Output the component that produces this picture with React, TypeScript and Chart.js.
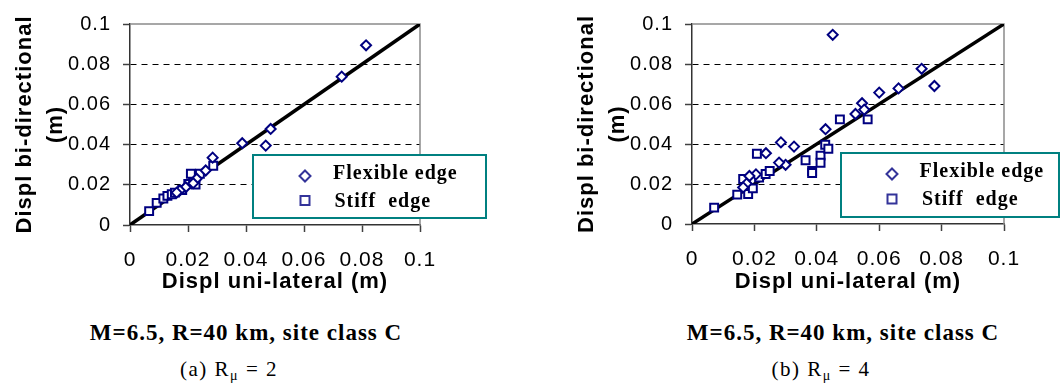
import React, { useEffect, useRef } from 'react';
import { Chart, registerables } from 'chart.js';

Chart.register(...registerables);

const SANS = "'Liberation Sans', Arial, sans-serif";
const SERIF = "'Liberation Serif', 'Times New Roman', serif";

// ---- data ----
const AXIS_MIN = 0;
const AXIS_MAX = 0.1;
const AXIS_STEP = 0.02;
const X_TITLE = 'Displ uni-lateral (m)';
const Y_TITLE = ['Displ bi-directional', '(m)'];
const SERIES_NAMES = ['Flexible edge', 'Stiff  edge'];
const DIAG_X = [0, 0.1];
const DIAG_Y = [0, 0.1];
const CAPTION_MAIN = 'M=6.5, R=40 km, site class C';
const CAPTION_SUB = [
  { pre: '(a) R', sub: 'μ', post: ' = 2' },
  { pre: '(b) R', sub: 'μ', post: ' = 4' },
];

// Panel (a): R_mu = 2
const A_FLEX_X = [0.0814, 0.073, 0.0485, 0.0468, 0.0387, 0.0285, 0.0261, 0.023, 0.0218, 0.0192, 0.0172, 0.0161];
const A_FLEX_Y = [0.0894, 0.0738, 0.0478, 0.0395, 0.0407, 0.0335, 0.0271, 0.023, 0.0208, 0.0188, 0.0172, 0.0161];
const A_STIFF_X = [0.0066, 0.0092, 0.0115, 0.0129, 0.0144, 0.0155, 0.018, 0.0201, 0.021, 0.0218, 0.0226, 0.0241, 0.0287];
const A_STIFF_Y = [0.0069, 0.011, 0.0132, 0.0145, 0.0153, 0.0161, 0.0174, 0.0204, 0.0255, 0.021, 0.0201, 0.0255, 0.0295];

// Panel (b): R_mu = 4
const B_FLEX_X = [0.0451, 0.0736, 0.0777, 0.0662, 0.06, 0.0545, 0.0552, 0.0524, 0.0428, 0.0327, 0.0285, 0.03, 0.0279, 0.0237, 0.0205, 0.0184, 0.0175, 0.0164];
const B_FLEX_Y = [0.0946, 0.0776, 0.069, 0.0678, 0.0657, 0.0604, 0.0572, 0.055, 0.0474, 0.0387, 0.0408, 0.0296, 0.0307, 0.0354, 0.0248, 0.024, 0.0202, 0.0183];
const B_STIFF_X = [0.0071, 0.0145, 0.018, 0.0164, 0.0195, 0.0208, 0.0215, 0.0236, 0.0249, 0.0364, 0.0385, 0.0385, 0.0412, 0.0412, 0.0427, 0.0437, 0.0474, 0.0563];
const B_STIFF_Y = [0.0082, 0.0147, 0.015, 0.0225, 0.0178, 0.0351, 0.0232, 0.025, 0.0265, 0.0319, 0.0265, 0.0255, 0.0342, 0.0306, 0.0396, 0.0376, 0.0523, 0.0523];

const pts = (xs: number[], ys: number[]) => xs.map((x, i) => ({ x, y: ys[i] }));

type Layout = {
  canvasLeft: number;
  width: number;
  height: number;
  padTop: number;
  padRight: number;
  xScaleH: number;
  legend: { x1: number; x2: number; y1: number; y2: number; mx: number; my: number[]; tx: number[]; ty: number[] };
};

const LAYOUT_A: Layout = {
  canvasLeft: 0,
  width: 530,
  height: 300,
  padTop: 18,
  padRight: 110,
  xScaleH: 75,
  legend: { x1: 253, x2: 486, y1: 155, y2: 218, mx: 305, my: [176, 200.5], tx: [333, 334.5], ty: [179, 206.5] },
};

const LAYOUT_B: Layout = {
  canvasLeft: 562,
  width: 499,
  height: 300,
  padTop: 20,
  padRight: 57,
  xScaleH: 76,
  legend: { x1: 279, x2: 497, y1: 153, y2: 217, mx: 330, my: [174, 199], tx: [357.5, 360], ty: [176.5, 205] },
};

const NAVY = '#000080';
const LEG_MARK = '#333399';

function drawDiamond(ctx: CanvasRenderingContext2D, x: number, y: number, r: number) {
  ctx.beginPath();
  ctx.moveTo(x, y - r);
  ctx.lineTo(x + r, y);
  ctx.lineTo(x, y + r);
  ctx.lineTo(x - r, y);
  ctx.closePath();
}

function makeConfig(flex: { x: number; y: number }[], stiff: { x: number; y: number }[], L: Layout): any {
  const spacing = {
    id: 'spacing',
    beforeDraw(chart: any) {
      chart.ctx.letterSpacing = '1px';
    },
  };
  const frame = {
    id: 'frame',
    beforeDatasetsDraw(chart: any) {
      const { ctx, chartArea: a } = chart;
      ctx.save();
      ctx.strokeStyle = '#8a8a8a';
      ctx.lineWidth = 1.5;
      ctx.beginPath();
      ctx.moveTo(a.left, a.top);
      ctx.lineTo(a.right, a.top);
      ctx.lineTo(a.right, a.bottom);
      ctx.stroke();
      ctx.restore();
    },
  };
  const legend = {
    id: 'customLegend',
    afterDatasetsDraw(chart: any) {
      const ctx = chart.ctx as CanvasRenderingContext2D;
      const g = L.legend;
      ctx.save();
      ctx.fillStyle = '#fff';
      ctx.fillRect(g.x1, g.y1, g.x2 - g.x1, g.y2 - g.y1);
      ctx.strokeStyle = '#008080';
      ctx.lineWidth = 2;
      ctx.strokeRect(g.x1, g.y1, g.x2 - g.x1, g.y2 - g.y1);
      ctx.strokeStyle = LEG_MARK;
      ctx.fillStyle = '#fff';
      ctx.lineWidth = 2;
      drawDiamond(ctx, g.mx, g.my[0], 5.5);
      ctx.fill();
      ctx.stroke();
      ctx.beginPath();
      ctx.rect(g.mx - 4.5, g.my[1] - 4.5, 9, 9);
      ctx.fill();
      ctx.stroke();
      (ctx as any).letterSpacing = '1px';
      ctx.fillStyle = '#000';
      ctx.font = `bold 20px ${SERIF}`;
      ctx.textBaseline = 'alphabetic';
      ctx.textAlign = 'left';
      ctx.fillText(SERIES_NAMES[0], g.tx[0], g.ty[0]);
      ctx.fillText(SERIES_NAMES[1], g.tx[1], g.ty[1]);
      ctx.restore();
    },
  };

  return {
    type: 'scatter',
    data: {
      datasets: [
        {
          label: 'diag',
          data: pts(DIAG_X, DIAG_Y),
          showLine: true,
          borderColor: '#000',
          borderWidth: 3.5,
          pointRadius: 0,
          order: 10,
        },
        {
          label: SERIES_NAMES[0],
          data: flex,
          pointStyle: 'rectRot',
          pointRadius: 5,
          borderColor: NAVY,
          backgroundColor: '#fff',
          pointBorderWidth: 2,
          borderWidth: 2,
          order: 1,
        },
        {
          label: SERIES_NAMES[1],
          data: stiff,
          pointStyle: 'rect',
          pointRadius: 5.6,
          borderColor: NAVY,
          backgroundColor: '#fff',
          pointBorderWidth: 2,
          borderWidth: 2,
          order: 2,
        },
      ],
    },
    options: {
      animation: false,
      responsive: false,
      events: [],
      layout: { padding: { left: 0, right: L.padRight, top: L.padTop, bottom: 0 } },
      plugins: { legend: { display: false }, tooltip: { enabled: false } },
      scales: {
        x: {
          type: 'linear',
          min: AXIS_MIN,
          max: AXIS_MAX,
          afterFit: (s: any) => {
            s.height = L.xScaleH;
          },
          ticks: {
            stepSize: AXIS_STEP,
            color: '#000',
            font: { family: SANS, size: 21 },
            padding: 16,
            maxRotation: 0,
            autoSkip: false,
            callback: (v: any) => String(+Number(v).toFixed(2)),
          },
          grid: {
            drawOnChartArea: false,
            drawTicks: true,
            tickLength: 7,
            tickColor: '#404040',
            tickWidth: 1.5,
          },
          border: { display: true, color: '#333', width: 1.5 },
          title: {
            display: true,
            text: X_TITLE,
            color: '#000',
            font: { family: SANS, size: 22, weight: 'bold', lineHeight: 1.2 },
            padding: { top: 0, bottom: 5 },
          },
        },
        y: {
          type: 'linear',
          min: AXIS_MIN,
          max: AXIS_MAX,
          afterFit: (s: any) => {
            s.width = 130;
          },
          ticks: {
            stepSize: AXIS_STEP,
            color: '#000',
            font: { family: SANS, size: 20 },
            padding: 12,
            autoSkip: false,
            callback: (v: any) => String(+Number(v).toFixed(2)),
          },
          grid: {
            drawOnChartArea: true,
            drawTicks: true,
            tickLength: 7,
            tickWidth: 1.5,
            tickColor: '#404040',
            lineWidth: 1,
            color: (c: any) => {
              const v = c.tick ? c.tick.value : 0;
              return v > 1e-6 && v < AXIS_MAX - 1e-6 ? '#000' : 'rgba(0,0,0,0)';
            },
          },
          border: { display: true, color: '#333', width: 1.5, dash: [6, 5] },
          title: {
            display: true,
            text: Y_TITLE,
            color: '#000',
            font: { family: SANS, size: 22, weight: 'bold', lineHeight: 1.4 },
            padding: { top: 10, bottom: 0 },
          },
        },
      },
    },
    plugins: [spacing, frame, legend],
  };
}

function Panel({ flex, stiff, L }: { flex: any[]; stiff: any[]; L: Layout }) {
  const ref = useRef<HTMLCanvasElement | null>(null);
  useEffect(() => {
    if (!ref.current) return;
    const chart = new Chart(ref.current, makeConfig(flex, stiff, L));
    return () => chart.destroy();
  }, []);
  return (
    <canvas
      ref={ref}
      width={L.width}
      height={L.height}
      style={{ position: 'absolute', left: L.canvasLeft, top: 0, width: L.width, height: L.height }}
    />
  );
}

function Caption({ center, idx }: { center: number[]; idx: number }) {
  const s = CAPTION_SUB[idx];
  return (
    <>
      <div
        style={{
          position: 'absolute',
          left: center[0] - 200,
          width: 400,
          top: 321,
          textAlign: 'center',
          fontFamily: SERIF,
          fontWeight: 'bold',
          fontSize: 23,
          lineHeight: '23px',
          letterSpacing: '1px',
          whiteSpace: 'pre',
          color: '#000',
        }}
      >
        {CAPTION_MAIN}
      </div>
      <div
        style={{
          position: 'absolute',
          left: center[1] - 200,
          width: 400,
          top: 359,
          textAlign: 'center',
          fontFamily: SERIF,
          fontSize: 21,
          lineHeight: '21px',
          letterSpacing: '1.5px',
          whiteSpace: 'pre',
          color: '#000',
        }}
      >
        {s.pre}
        <span style={{ fontSize: 14, position: 'relative', top: 4 }}>{s.sub}</span>
        {s.post}
      </div>
    </>
  );
}

export default function App() {
  return (
    <div style={{ position: 'absolute', left: 0, top: 0, width: 1061, height: 387, background: '#fff', overflow: 'hidden' }}>
      <Panel flex={pts(A_FLEX_X, A_FLEX_Y)} stiff={pts(A_STIFF_X, A_STIFF_Y)} L={LAYOUT_A} />
      <Panel flex={pts(B_FLEX_X, B_FLEX_Y)} stiff={pts(B_STIFF_X, B_STIFF_Y)} L={LAYOUT_B} />
      <Caption center={[246, 229]} idx={0} />
      <Caption center={[843, 821]} idx={1} />
    </div>
  );
}
